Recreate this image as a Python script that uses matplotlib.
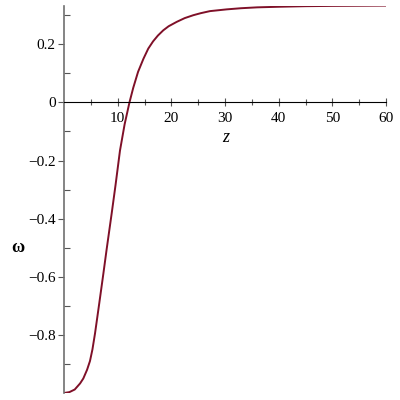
import matplotlib.pyplot as plt
import numpy as np

# values
z = [0, 1, 2, 3, 3.6, 4.3, 4.84, 5.3, 5.78, 6.2, 6.58, 7.33, 7.95, 8.9, 9.6,
     10.43, 11.3, 12.2, 12.9, 13.8, 14.8, 15.7, 16.6, 17.5, 18.5, 19.5, 21.0,
     22.5, 24.1, 25.5, 27.2, 30.3, 33, 36, 40, 45, 50, 55, 60]
omega = [-1.0, -0.997, -0.988, -0.967, -0.950, -0.920, -0.89, -0.85, -0.795,
         -0.74, -0.69, -0.59, -0.505, -0.38, -0.285, -0.166, -0.075, 0.0, 0.05,
         0.105, 0.15, 0.185, 0.21, 0.23, 0.248, 0.262, 0.277, 0.290, 0.300,
         0.307, 0.314, 0.320, 0.324, 0.327, 0.329, 0.331, 0.332, 0.3325, 0.333]

xticks = [10, 20, 30, 40, 50, 60]
yticks = [-0.8, -0.6, -0.4, -0.2, 0, 0.2]
ytick_labels = ['\u22120.8', '\u22120.6', '\u22120.4', '\u22120.2', '0', '0.2']

plt.rcParams['font.family'] = ['Liberation Serif', 'DejaVu Serif']

fig = plt.figure(figsize=(4, 4), dpi=100)
ax = fig.add_axes([0.16, 0.0175, 0.805, 0.9685])

ax.plot(z, omega, color='#7f1028', lw=1.4, solid_joinstyle='round')

ax.set_xlim(0, 60)
ax.set_ylim(-1.0, 0.333)

ax.spines['top'].set_visible(False)
ax.spines['right'].set_visible(False)
ax.spines['bottom'].set_position(('data', 0))
ax.spines['bottom'].set_color('black')
ax.spines['left'].set_color('#707070')
ax.spines['left'].set_linewidth(1.2)

ax.set_xticks(xticks)
ax.set_xticks(np.arange(5, 60, 5), minor=True)
ax.set_yticks(yticks)
ax.set_yticklabels(ytick_labels)
ax.set_yticks(np.arange(-0.9, 0.31, 0.2), minor=True)

ax.tick_params(axis='x', which='major', direction='inout', length=6, width=0.8,
               labelsize=11, pad=4, color='#555555')
ax.tick_params(axis='x', which='minor', direction='inout', length=4, width=0.8, color='#555555')
ax.tick_params(axis='y', which='major', direction='out', length=4, width=0.8,
               labelsize=11, pad=2, color='#555555')
ax.tick_params(axis='y', which='minor', direction='in', length=4, width=0.8, color='#555555')

ax.text(30.2, -0.12, 'z', fontsize=13, style='italic', ha='center', va='center')
fig.text(18 / 400, 1 - 248 / 400, '\u03c9', fontsize=13, fontweight='bold',
         ha='center', va='center')

fig.savefig('out.png', dpi=100)
